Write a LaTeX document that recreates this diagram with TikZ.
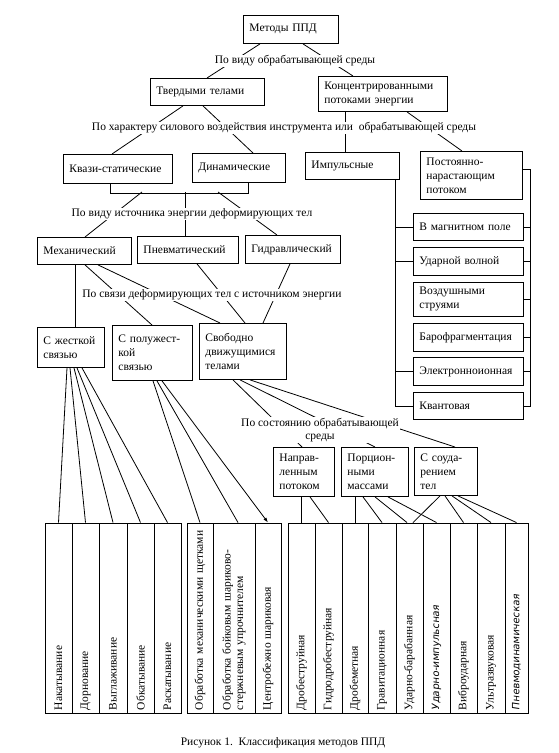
\documentclass[tikz,border=0pt]{standalone}
\usepackage{fontspec}
\setmainfont{Liberation Serif}
\newfontfamily\handfont{DejaVu Sans}[FakeSlant=0.15]
\usetikzlibrary{arrows.meta}
\tikzset{
 box/.style={draw, line width=0.9pt, align=left, inner xsep=6pt, inner ysep=2pt, font=\fontsize{11.5}{14}\selectfont},
 lbl/.style={fill=white, inner sep=1pt, font=\fontsize{11.5}{13.5}\selectfont},
 conn/.style={line width=0.8pt},
 colbox/.style={draw, line width=0.9pt, rotate=90, align=left, inner xsep=3pt, inner ysep=0pt, minimum width=190pt, text width=184pt, font=\fontsize{11.5}{12.5}\selectfont},
}
\newcommand\mybox[6]{%
 \pgfmathsetmacro\bw{#4-#2}\pgfmathsetmacro\bh{#5-#3}\pgfmathsetmacro\tw{#4-#2-12}%
 \node[box, anchor=north west, minimum width=\bw pt, minimum height=\bh pt, text width=\tw pt] (#1) at (#2,#3) {#6};}
\newcommand\mycol[4]{%
 \pgfmathsetmacro\cw{#3-#2}\pgfmathsetmacro\cx{(#2+#3)/2}%
 \node[colbox, minimum height=\cw pt] (#1) at (\cx,618) {#4};}
\begin{document}
\begin{tikzpicture}[x=1pt,y=-1pt]
\useasboundingbox[fill=white] (0,0) rectangle (558,753);
% boxes
\mybox{top}{243}{15}{338}{43}{Методы ППД}
\mybox{solid}{150}{78}{264}{105}{Твердыми телами}
\mybox{conc}{318}{76}{447}{111}{Концентрированными\\потоками энергии}
\mybox{quasi}{63}{154}{172}{183}{Квази-статические}
\mybox{dyn}{192}{153}{285}{182}{Динамические}
\mybox{imp}{305}{152}{399}{179}{Импульсные}
\mybox{const}{420}{151}{522}{199}{Постоянно-\\нарастающим\\потоком}
\mybox{mag}{413}{213}{523}{240}{В магнитном поле}
\mybox{shock}{413}{247}{523}{275}{Ударной волной}
\mybox{air}{413}{282}{523}{316}{Воздушными\\струями}
\mybox{baro}{413}{323}{523}{351}{Барофрагментация}
\mybox{elec}{413}{357}{523}{385}{Электронноионная}
\mybox{quant}{413}{392}{523}{419}{Квантовая}
\mybox{mech}{37}{237}{131}{264}{Механический}
\mybox{pneu}{137}{236}{238}{263}{Пневматический}
\mybox{hydr}{245}{235}{340}{263}{Гидравлический}
\mybox{rigid}{37}{327}{104}{367}{С жесткой\\связью}
\mybox{semi}{112}{325}{192}{380}{С полужест-\\кой\\связью}
\mybox{free}{199}{323}{286}{379}{Свободно\\движущимися\\телами}
\mybox{dir}{273}{447}{334}{496}{Направ-\\ленным\\потоком}
\mybox{port}{341}{447}{408}{496}{Порцион-\\ными\\массами}
\mybox{coll}{414}{447}{477}{495}{С соуда-\\рением\\тел}
% bottom columns
\mycol{a1}{45}{72}{Накатывание}
\mycol{a2}{72}{99}{Дорнование}
\mycol{a3}{99}{127}{Выглаживание}
\mycol{a4}{127}{154}{Обкатывание}
\mycol{a5}{154}{181}{Раскатывание}
\mycol{b1}{187}{213}{Обработка механическими щетками}
\mycol{b2}{213}{255}{Обработка бойковым шариково-\\стержневым упрочнителем}
\mycol{b3}{255}{281}{Центробежно шариковая}
\mycol{c1}{288}{315}{Дробеструйная}
\mycol{c2}{315}{342}{Гидродробеструйная}
\mycol{c3}{342}{368}{Дробеметная}
\mycol{c4}{368}{396}{Гравитационная}
\mycol{c5}{396}{423}{Ударно-барабанная}
\mycol{c6}{423}{450}{{\handfont\fontsize{10}{12}\selectfont Ударно-импульсная}}
\mycol{c7}{450}{477}{Виброударная}
\mycol{c8}{477}{505}{Ультразвуковая}
\mycol{c9}{505}{528}{{\handfont\fontsize{10}{12}\selectfont Пневмодинамическая}}
% connectors
\draw[conn] ([xshift=17pt]top.south west) -- ([xshift=57pt]solid.north west);
\draw[conn] ([xshift=60pt]top.south west) -- ([xshift=35pt]conc.north west);
\draw[conn] ([xshift=33pt]solid.south west) -- ([xshift=49pt]quasi.north west);
\draw[conn] ([xshift=53pt]solid.south west) -- ([xshift=61pt]dyn.north west);
\draw[conn] ([xshift=27pt]conc.south west) -- ([xshift=40pt]imp.north west);
\draw[conn] ([xshift=89pt]conc.south west) -- ([xshift=42pt]const.north west);
\draw[conn] ([xshift=47pt]quasi.south west) -- ++(0,9) -| ([xshift=56pt]dyn.south west);
\coordinate (j1) at (142,192);
\coordinate (j2) at (185,192);
\coordinate (j3) at (218,192);
\draw[conn] (j1) -- ([xshift=48pt]mech.north west);
\draw[conn] (j2) -- (j2 |- pneu.north);
\draw[conn] (j3) -- ([xshift=32pt]hydr.north west);
\draw[conn] ([xshift=38pt]mech.south west) -- ([xshift=38pt]rigid.north west);
\draw[conn] ([xshift=48pt]mech.south west) -- ([xshift=40pt]semi.north west);
\draw[conn] ([xshift=61pt]mech.south west) -- ([xshift=21pt]free.north west);
\draw[conn] ([xshift=60pt]pneu.south west) -- ([xshift=46pt]free.north west);
\draw[conn] ([xshift=45pt]hydr.south west) -- ([xshift=64pt]free.north west);
\foreach \s/\c in {30/a1,33/a2,37/a3,40/a4,45/a5}
  \draw[conn] ([xshift=\s pt]rigid.south west) -- (\c.east);
\draw[conn] ([xshift=41pt]semi.south west) -- (b1.east);
\draw[conn] ([xshift=45pt]semi.south west) -- ([xshift=4pt]b2.east);
\draw[conn,-{Latex[length=5pt,width=3.5pt]}] ([xshift=50pt]semi.south west) -- (b3.east);
\draw[conn] ([xshift=34pt]free.south west) -- ([xshift=29pt]dir.north west);
\draw[conn] ([xshift=41pt]free.south west) -- ([xshift=34pt]port.north west);
\draw[conn] ([xshift=51pt]free.south west) -- ([xshift=41pt]coll.north west);
\draw[conn] (c1.east |- dir.south) -- (c1.east);
\draw[conn] ([xshift=37pt]dir.south west) -- (c2.east);
\draw[conn] (c3.east |- port.south) -- (c3.east);
\draw[conn] ([xshift=22pt]port.south west) -- (c4.east);
\draw[conn] ([xshift=34pt]port.south west) -- ([xshift=-2.5pt]c5.east);
\draw[conn] ([xshift=47pt]port.south west) -- (c6.east);
\draw[conn] ([xshift=26pt]coll.south west) -- ([xshift=3.5pt]c5.east);
\draw[conn] ([xshift=31pt]coll.south west) -- (c7.east);
\draw[conn] ([xshift=38pt]coll.south west) -- (c8.east);
\draw[conn] ([xshift=44pt]coll.south west) -- (c9.east);
% brackets
\coordinate (rb) at (530,0);
\coordinate (lb) at (395,0);
\draw[conn] ([yshift=6pt]const.east) -| (rb |- quant.east) -- (quant.east);
\foreach \n in {mag,shock,air,baro,elec}
  \draw[conn] (\n.east) -- (\n.east -| rb);
\draw[conn] (imp.south -| lb) |- (quant.west);
\foreach \n in {mag,shock,elec}
  \draw[conn] (\n.west -| lb) -- (\n.west);
% labels
\node[lbl] (l1) at (295,61) {По виду обрабатывающей среды};
\node[lbl] (l2) at (284,128) {По характеру силового воздействия инструмента или\ \ обрабатывающей среды};
\node[lbl] (l3) at (192,214) {По виду источника энергии деформирующих тел};
\node[lbl] (l4) at (212,295) {По связи деформирующих тел с источником энергии};
\node[lbl, align=center] (l5) at (320,430) {По состоянию обрабатывающей\\среды};
\node[font=\fontsize{11.5}{13}\selectfont] (cap) at (283,743) {Рисунок 1.\ \ Классификация методов ППД};
\end{tikzpicture}
\end{document}
